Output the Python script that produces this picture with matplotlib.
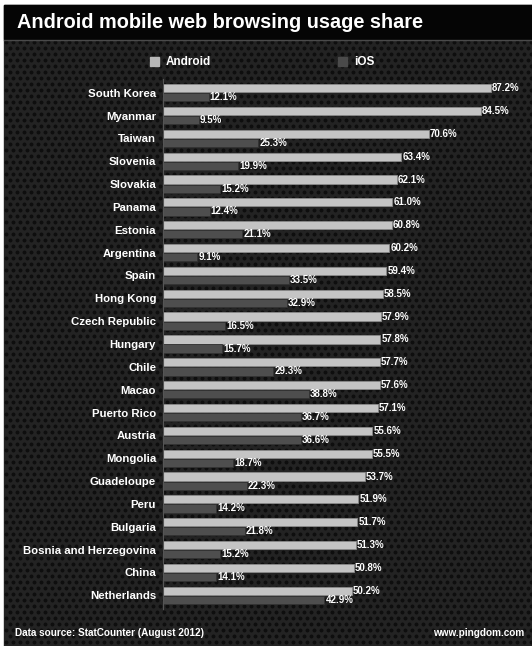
import numpy as np
import matplotlib.pyplot as plt
from matplotlib.patches import Rectangle

countries = ["South Korea", "Myanmar", "Taiwan", "Slovenia", "Slovakia", "Panama",
             "Estonia", "Argentina", "Spain", "Hong Kong", "Czech Republic", "Hungary",
             "Chile", "Macao", "Puerto Rico", "Austria", "Mongolia", "Guadeloupe",
             "Peru", "Bulgaria", "Bosnia and Herzegovina", "China", "Netherlands"]
android = [87.2, 84.5, 70.6, 63.4, 62.1, 61.0, 60.8, 60.2, 59.4, 58.5, 57.9, 57.8,
           57.7, 57.6, 57.1, 55.6, 55.5, 53.7, 51.9, 51.7, 51.3, 50.8, 50.2]
ios = [12.1, 9.5, 25.3, 19.9, 15.2, 12.4, 21.1, 9.1, 33.5, 32.9, 16.5, 15.7,
       29.3, 38.8, 36.7, 36.6, 18.7, 22.3, 14.2, 21.8, 15.2, 14.1, 42.9]

W, H = 532, 646
plt.rcParams['font.family'] = ['Liberation Sans', 'DejaVu Sans']
fig = plt.figure(figsize=(W / 100, H / 100), dpi=100, facecolor='white')

# background panel with hex-ish dot texture
bg = fig.add_axes([0, 0, 1, 1])
bg.set_xlim(0, W)
bg.set_ylim(H, 0)
bg.axis('off')
bg.add_patch(Rectangle((4, 5), W - 4, H - 5, color='#232323', zorder=0))
gx, gy = np.meshgrid(np.arange(6, W, 7.0), np.arange(42, H, 6.0))
gx = gx + (np.arange(gy.shape[0])[:, None] % 2) * 3.5
bg.scatter(gx.ravel(), gy.ravel(), s=8, color='#0e0e0e', linewidths=0, zorder=1)
# title bar
bg.add_patch(Rectangle((4, 5), W - 4, 34, color='#050505', zorder=2))
bg.plot([4, W], [39.5, 39.5], color='#4a4a4a', lw=1, zorder=3)
bg.text(17, 22, "Android mobile web browsing usage share", color='white',
        fontsize=14.3, fontweight='bold', va='center', ha='left', zorder=4)

# legend
bg.add_patch(Rectangle((150, 57), 9, 9, color='#b8b8b8', zorder=4))
bg.text(166, 62, "Android", color='white', fontsize=8.5, fontweight='bold', va='center')
bg.add_patch(Rectangle((338, 57), 9, 9, color='#4a4a4a', zorder=4))
bg.text(354, 62, "iOS", color='white', fontsize=8.5, fontweight='bold', va='center')

# footer
bg.text(15, 633, "Data source: StatCounter (August 2012)", color='white',
        fontsize=7.2, fontweight='bold', va='center')
bg.text(524, 633, "www.pingdom.com", color='white', fontsize=7.2,
        fontweight='bold', va='center', ha='right')

# bar chart
ax = fig.add_axes([163 / W, 1 - 609 / H, 346 / W, (609 - 79) / H])
ax.patch.set_alpha(0)
y = np.arange(len(countries))
off, h = 0.2, 0.36
ax.barh(y - off, android, height=h, color='#c4c4c4', edgecolor='#8a8a8a', lw=0.6)
ax.barh(y + off, ios, height=h, color='#4e4e4e', edgecolor='#333333', lw=0.6)
for i in range(len(countries)):
    ax.text(android[i] + 0.3, y[i] - off, f"{android[i]:.1f}%", color='white',
            fontsize=7, fontweight='bold', va='center', ha='left')
    ax.text(ios[i] + 0.3, y[i] + off, f"{ios[i]:.1f}%", color='white',
            fontsize=7, fontweight='bold', va='center', ha='left')
ax.set_xlim(0, 92)
ax.set_ylim(len(countries) - 0.4, -0.6)
ax.set_yticks(y)
ax.set_yticklabels(countries, color='white', fontsize=8.2, fontweight='bold')
ax.tick_params(axis='y', length=0, pad=5)
ax.set_xticks([])
for s in ['top', 'right', 'bottom']:
    ax.spines[s].set_visible(False)
ax.spines['left'].set_color('#555555')
ax.spines['left'].set_linewidth(0.8)

fig.savefig('out.png', dpi=100, facecolor='white')
